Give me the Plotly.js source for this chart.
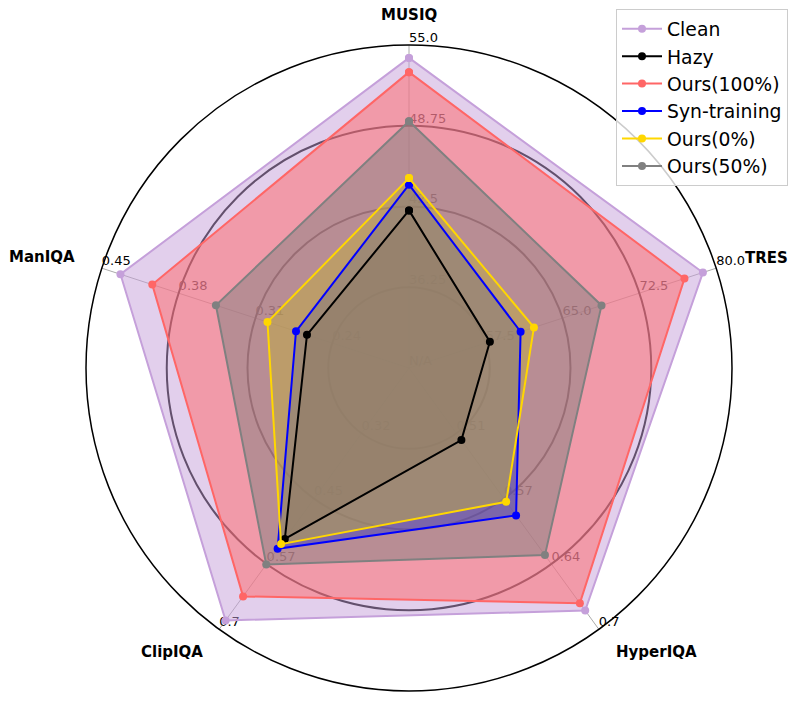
<!DOCTYPE html>
<html>
<head>
<meta charset="utf-8">
<script src="https://cdn.plot.ly/plotly-3.0.1.min.js"></script>
<style>
  html, body { margin: 0; padding: 0; background: #fff; }
  #radar { width: 797px; height: 701px; }
</style>
</head>
<body>
<div id="radar"></div>
<script>
// axes in clockwise order starting from the top
const axes = ["MUSIQ", "TRES", "HyperIQA", "ClipIQA", "ManIQA"];
const axisMin = [30, 50, 0.45, 0.2, 0.17];
const axisMax = [55, 80, 0.7, 0.7, 0.45];
const tickLevels = [0.25, 0.5, 0.75, 1];
const tickLabels = [
    ["36.25", "42.5", "48.75", "55.0"],
    ["57.5", "65.0", "72.5", "80.0"],
    ["0.51", "0.57", "0.64", "0.7"],
    ["0.32", "0.45", "0.57", "0.7"],
    ["0.24", "0.31", "0.38", "0.45"],
];

const seriesNames = ["Clean", "Hazy", "Ours(100%)", "Syn-training", "Ours(0%)", "Ours(50%)"];
const clean = [54.0, 78.7, 0.682, 0.683, 0.433];
const hazy = [42.2, 57.9, 0.519, 0.527, 0.263];
const ours100 = [52.9, 76.9, 0.675, 0.637, 0.404];
const synTraining = [44.2, 60.9, 0.591, 0.546, 0.273];
const ours0 = [44.7, 62.2, 0.578, 0.537, 0.299];
const ours50 = [49.1, 68.8, 0.629, 0.576, 0.346];
const seriesValues = [clean, hazy, ours100, synTraining, ours0, ours50];

const colors = ["rgb(197,160,218)", "rgb(0,0,0)", "rgb(255,102,102)", "rgb(0,0,255)", "rgb(255,215,0)", "rgb(128,128,128)"];
const fills = ["rgba(197,160,218,0.5)", "rgba(0,0,0,0.5)", "rgba(255,102,102,0.5)", "rgba(0,0,255,0.5)", "rgba(255,215,0,0.5)", "rgba(128,128,128,0.5)"];

// each axis has its own scale, so map values to 0..1
function normalize(vals) {
    const r = vals.map((v, i) => (v - axisMin[i]) / (axisMax[i] - axisMin[i]));
    return r.concat([r[0]]);
}
const thetaClosed = axes.concat([axes[0]]);

const traces = [];

// tick labels sit under the fills, like in the original
axes.forEach((axis, i) => {
    traces.push({
        type: "scatterpolar",
        mode: "text",
        r: tickLevels,
        theta: tickLevels.map(() => axis),
        text: tickLabels[i],
        textposition: "top right",
        textfont: {family: "DejaVu Sans", size: 13, color: "#000"},
        showlegend: false,
        hoverinfo: "skip",
    });
});
traces.push({
    type: "scatterpolar",
    mode: "text",
    r: [0],
    theta: [axes[0]],
    text: ["N/A"],
    textposition: "top right",
    textfont: {family: "DejaVu Sans", size: 13, color: "#000"},
    showlegend: false,
    hoverinfo: "skip",
});

// fills first
seriesValues.forEach((vals, k) => {
    traces.push({
        type: "scatterpolar",
        mode: "lines",
        r: normalize(vals),
        theta: thetaClosed,
        fill: "toself",
        fillcolor: fills[k],
        line: {width: 0, color: "rgba(0,0,0,0)"},
        showlegend: false,
        hoverinfo: "skip",
    });
});

// then lines and markers on top
seriesValues.forEach((vals, k) => {
    traces.push({
        type: "scatterpolar",
        mode: "lines+markers",
        name: seriesNames[k],
        r: normalize(vals),
        theta: thetaClosed,
        line: {color: colors[k], width: 2},
        marker: {color: colors[k], size: 8},
    });
});

// plot area: x 86..732, y 45..691 (pixels)
function px(x) { return (x - 86) / 646; }
function py(y) { return (691 - y) / 646; }
const labelPos = [[409, 15], [766, 258], [656, 652], [172, 652], [42, 257]];

const layout = {
    width: 797,
    height: 701,
    margin: {l: 86, r: 65, t: 45, b: 10, autoexpand: false},
    paper_bgcolor: "#fff",
    font: {family: "DejaVu Sans", color: "#000"},
    polar: {
        bgcolor: "#fff",
        domain: {x: [0, 1], y: [0, 1]},
        radialaxis: {
            range: [0, 1],
            tickvals: [0.25, 0.5, 0.75],
            showticklabels: false,
            ticks: "",
            showline: false,
            gridcolor: "#000",
            gridwidth: 2,
            layer: "below traces",
        },
        angularaxis: {
            type: "category",
            categoryarray: axes,
            rotation: 90,
            direction: "clockwise",
            showticklabels: false,
            ticks: "",
            showline: true,
            linecolor: "#000",
            linewidth: 1.5,
            gridcolor: "#aaa",
            gridwidth: 1,
            layer: "below traces",
        },
    },
    legend: {
        x: px(788),
        y: py(9),
        xanchor: "right",
        yanchor: "top",
        bgcolor: "rgba(255,255,255,0.8)",
        bordercolor: "#ccc",
        borderwidth: 1,
        itemwidth: 40,
        font: {family: "DejaVu Sans", size: 18.8, color: "#000"},
    },
    annotations: axes.map((axis, i) => ({
        text: "<b>" + axis + "</b>",
        x: px(labelPos[i][0]),
        y: py(labelPos[i][1]),
        xref: "paper",
        yref: "paper",
        xanchor: "center",
        yanchor: "middle",
        showarrow: false,
        font: {family: "DejaVu Sans", size: 15, color: "#000"},
    })),
};

Plotly.newPlot("radar", traces, layout, {displayModeBar: false});
</script>
</body>
</html>
